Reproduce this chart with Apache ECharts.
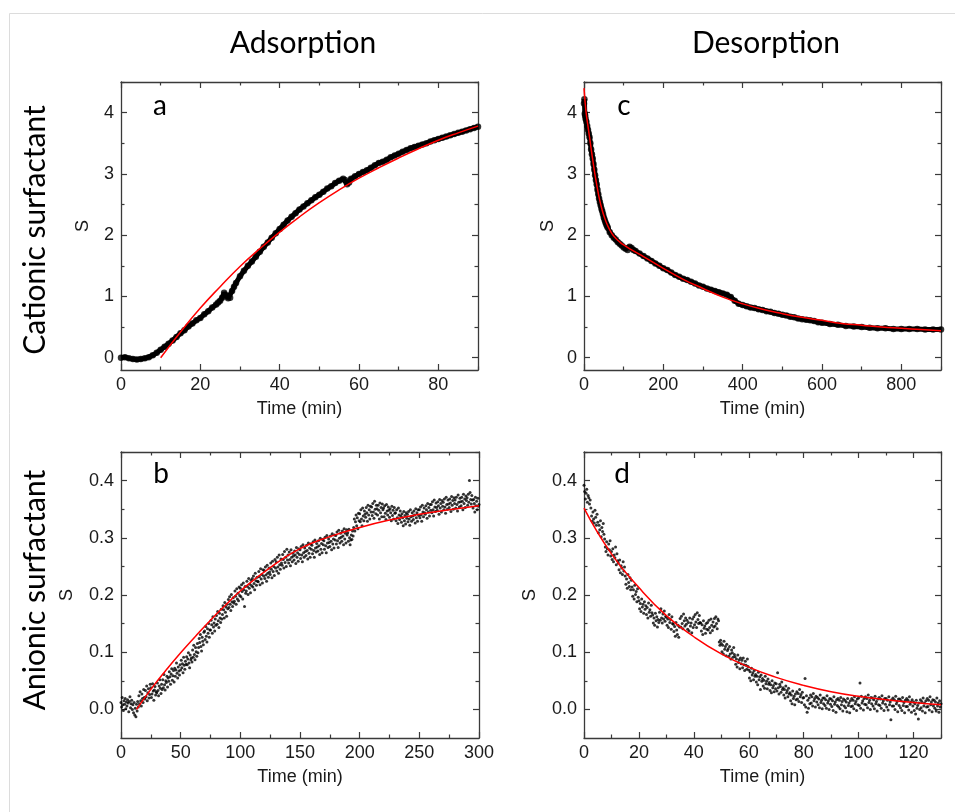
<!DOCTYPE html>
<html><head><meta charset="utf-8">
<script src="https://cdn.jsdelivr.net/npm/echarts@6/dist/echarts.min.js"></script>
<style>html,body{margin:0;padding:0;background:#fff}#c{width:955px;height:812px}</style>
</head><body><div id="c"></div>
<script>
// ---------- Panel a: cationic adsorption ----------
const aTime = [0,1,2,3,4,5,6,7,8,9,10,11,12,13,14,15,16,17,18,19,20,21,22,23,24,24.5,25,25.5,26,26.5,27,27.5,28,28.5,29,30,31,32,33,34,35,36,37,38,39,40,41,42,43,44,45,46,47,48,49,50,51,52,53,54,55,56,56.5,57,57.5,58,59,60,61,62,63,64,65,66,67,68,69,70,71,72,73,74,75,76,77,78,79,80,81,82,83,84,85,86,87,88,89,90];
const aS = [0.00,0.01,-0.01,-0.02,-0.03,-0.02,-0.01,0.01,0.04,0.08,0.13,0.18,0.23,0.28,0.34,0.40,0.45,0.51,0.56,0.61,0.65,0.71,0.76,0.82,0.87,0.90,0.93,0.98,1.06,1.02,0.97,0.98,1.09,1.16,1.22,1.33,1.42,1.50,1.57,1.65,1.73,1.81,1.88,1.96,2.03,2.10,2.17,2.24,2.30,2.36,2.42,2.47,2.52,2.57,2.62,2.66,2.71,2.76,2.80,2.85,2.89,2.92,2.90,2.83,2.86,2.92,2.96,3.00,3.03,3.06,3.10,3.14,3.18,3.20,3.23,3.27,3.30,3.33,3.36,3.39,3.42,3.44,3.46,3.48,3.50,3.53,3.55,3.57,3.59,3.61,3.63,3.65,3.67,3.69,3.71,3.73,3.75,3.77];
const aFitTime = [10,15,20,25,30,35,40,45,50,55,60,65,70,75,80,85,90];
const aFitS = [0,0.42,0.81,1.16,1.49,1.78,2.05,2.30,2.53,2.74,2.93,3.10,3.26,3.41,3.55,3.67,3.78];

// ---------- Panel c: cationic desorption ----------
const cTime = [0,1,2,3,4,6,8,10,12,14,16,18,20,22,24,26,28,30,32,34,36,38,40,42,44,46,48,50,52,54,56,58,60,65,70,75,80,85,90,95,100,105,110,115,120,125,130,
 140,150,160,170,180,190,200,210,220,230,240,250,260,270,280,290,300,310,320,330,340,350,360,370,380,390,400,410,420,430,440,450,460,470,480,490,500,510,520,530,540,550,560,570,580,590,600,
 620,640,660,680,700,720,740,760,780,800,820,840,860,880,900];
const cS = [4.15,4.22,3.98,3.95,3.90,3.85,3.78,3.72,3.66,3.60,3.50,3.40,3.32,3.25,3.16,3.07,2.98,2.90,2.83,2.74,2.67,2.60,2.54,2.49,2.43,2.39,2.34,2.29,2.25,2.21,2.18,2.15,2.12,2.05,2.00,1.96,1.93,1.89,1.86,1.83,1.80,1.78,1.76,1.81,1.79,1.76,1.74,
 1.70,1.66,1.62,1.58,1.54,1.50,1.46,1.43,1.39,1.35,1.32,1.29,1.27,1.24,1.21,1.18,1.16,1.13,1.11,1.09,1.07,1.05,1.03,0.99,0.93,0.88,0.86,0.84,0.82,0.81,0.79,0.78,0.76,0.75,0.73,0.72,0.70,0.69,0.67,0.66,0.64,0.63,0.62,0.61,0.60,0.58,0.57,
 0.55,0.54,0.52,0.51,0.50,0.49,0.48,0.48,0.47,0.47,0.47,0.47,0.46,0.46,0.46];
const cFitTime = [0,5,10,15,20,25,30,35,40,45,50,60,70,80,90,100,120,150,200,250,300,350,400,450,500,550,600,650,700,750,800,850,900];
const cFitS = [4.40,4.02,3.78,3.55,3.32,3.10,2.90,2.72,2.56,2.43,2.32,2.15,2.03,1.95,1.89,1.84,1.76,1.65,1.46,1.28,1.13,0.99,0.88,0.79,0.72,0.66,0.61,0.56,0.53,0.50,0.48,0.46,0.44];

// ---------- Panel b: anionic adsorption (samples every 0.5 min from 0) ----------
const bStart = 0, bStep = 0.5;
const bS = [
.012,.004,.021,.008,-.002,.015,.009,.019,.001,.013,
.006,.017,.011,-.004,.014,.022,.003,.010,.016,.000,
.008,-.006,.012,-.010,.002,-.013,.009,-.003,.014,.004,
.024,.010,.031,.015,.006,.027,.019,.012,.035,.021,
.018,.033,.022,.041,.015,.029,.036,.020,.026,.044,
.038,.021,.027,.045,.032,.016,.034,.040,.025,.031,
.029,.046,.033,.024,.041,.052,.037,.028,.044,.035,
.052,.038,.061,.043,.034,.050,.047,.058,.039,.055,
.049,.066,.057,.044,.062,.071,.051,.059,.068,.048,
.072,.058,.069,.081,.063,.055,.074,.067,.060,.078,
.069,.086,.073,.080,.064,.091,.077,.070,.084,.079,
.092,.078,.088,.099,.081,.073,.095,.087,.090,.083,
.104,.091,.112,.096,.087,.108,.101,.093,.115,.099,
.108,.124,.117,.131,.110,.102,.126,.119,.113,.135,
.137,.122,.145,.128,.118,.141,.133,.150,.126,.139,
.139,.156,.148,.133,.162,.144,.151,.137,.158,.147,
.164,.149,.171,.155,.143,.168,.160,.152,.175,.158,
.166,.181,.174,.160,.187,.170,.179,.163,.184,.176,
.192,.178,.197,.184,.173,.201,.188,.180,.195,.186,
.189,.207,.198,.184,.211,.193,.203,.190,.214,.199,
.212,.197,.218,.206,.193,.221,.209,.180,.215,.203,
.207,.224,.215,.201,.229,.212,.219,.204,.226,.216,
.229,.214,.233,.220,.209,.238,.225,.217,.231,.224,
.223,.241,.232,.218,.246,.228,.236,.221,.244,.233,
.243,.229,.249,.235,.224,.252,.238,.231,.247,.240,
.236,.256,.245,.230,.259,.241,.250,.234,.262,.247,
.258,.242,.266,.249,.238,.270,.253,.245,.263,.256,
.252,.271,.262,.247,.276,.257,.266,.250,.280,.261,
.270,.256,.275,.262,.251,.279,.266,.258,.273,.268,
.261,.277,.270,.255,.283,.266,.274,.259,.281,.271,
.279,.264,.285,.270,.258,.288,.274,.266,.282,.276,
.269,.287,.278,.263,.291,.273,.282,.266,.289,.280,
.287,.272,.293,.278,.266,.296,.282,.275,.290,.284,
.277,.295,.286,.271,.299,.280,.290,.274,.297,.288,
.295,.280,.301,.286,.274,.304,.291,.283,.298,.292,
.285,.303,.294,.279,.307,.289,.298,.282,.305,.296,
.304,.289,.310,.295,.283,.313,.299,.291,.308,.301,
.294,.312,.303,.288,.316,.298,.308,.291,.314,.305,
.309,.294,.315,.300,.288,.296,.305,.297,.312,.303,
.318,.333,.312,.328,.340,.321,.335,.316,.343,.330,
.342,.328,.349,.333,.321,.352,.338,.330,.347,.341,
.336,.353,.344,.329,.357,.340,.349,.333,.355,.345,
.354,.339,.360,.345,.334,.364,.350,.342,.357,.351,
.340,.357,.348,.333,.361,.344,.353,.337,.359,.349,
.352,.337,.356,.343,.332,.358,.347,.340,.354,.348,
.336,.351,.344,.330,.355,.339,.348,.333,.353,.343,
.344,.330,.349,.335,.325,.352,.340,.332,.347,.338,
.327,.342,.335,.321,.346,.330,.339,.324,.344,.334,
.341,.328,.346,.333,.322,.349,.337,.329,.344,.338,
.332,.347,.340,.326,.351,.335,.344,.329,.349,.339,
.349,.335,.354,.340,.329,.357,.345,.337,.352,.344,
.341,.356,.349,.334,.360,.345,.353,.338,.358,.348,
.358,.344,.363,.349,.338,.366,.354,.346,.361,.353,
.348,.363,.356,.341,.367,.352,.360,.345,.365,.355,
.362,.349,.368,.354,.343,.371,.358,.350,.366,.359,
.353,.368,.361,.346,.372,.357,.365,.350,.370,.360,
.366,.352,.371,.358,.347,.375,.362,.354,.369,.363,
.356,.371,.364,.349,.376,.360,.368,.353,.373,.365,
.370,.357,.376,.362,.400,.379,.367,.359,.374,.366,
.352,.367,.360,.345,.371,.356,.364,.349,.369,.355,
.358];
const bFitTime = [13,25,37.5,50,62.5,75,87.5,100,125,150,175,200,225,250,275,300];
const bFitS = [0,0.035,0.068,0.099,0.128,0.156,0.182,0.207,0.248,0.281,0.302,0.318,0.331,0.341,0.349,0.356];

// ---------- Panel d: anionic desorption (samples every 0.25 min from 0) ----------
const dStart = 0, dStep = 0.25;
const dS = [
.392,.381,.368,.378,.385,.362,.374,.370,.359,.366,
.352,.338,.329,.345,.333,.326,.348,.336,.322,.341,
.327,.309,.322,.314,.330,.302,.318,.311,.325,.306,
.298,.284,.276,.293,.281,.270,.289,.279,.295,.268,
.276,.262,.281,.258,.270,.265,.284,.253,.272,.260,
.256,.244,.261,.239,.251,.247,.236,.258,.242,.249,
.233,.219,.228,.212,.236,.222,.215,.230,.209,.226,
.214,.198,.209,.193,.217,.201,.206,.188,.211,.196,
.190,.176,.185,.171,.193,.179,.184,.168,.188,.175,
.181,.166,.178,.160,.186,.170,.174,.163,.182,.169,
.165,.151,.160,.147,.168,.155,.162,.144,.157,.152,
.170,.156,.176,.160,.151,.167,.158,.172,.154,.163,
.161,.147,.158,.143,.166,.152,.157,.140,.162,.150,
.149,.136,.145,.128,.152,.139,.131,.147,.126,.144,
.159,.144,.163,.150,.141,.167,.155,.146,.160,.149,
.156,.140,.152,.137,.160,.146,.151,.134,.158,.143,
.162,.148,.166,.153,.143,.169,.157,.150,.164,.152,
.151,.137,.148,.131,.155,.142,.146,.133,.150,.140,
.152,.139,.156,.143,.134,.158,.147,.138,.153,.144,
.159,.146,.162,.150,.141,.158,.155,.118,.112,.121,
.115,.101,.112,.097,.119,.105,.110,.094,.114,.103,
.106,.093,.110,.097,.088,.104,.099,.091,.108,.096,
.092,.079,.088,.074,.095,.082,.087,.071,.090,.080,
.086,.073,.090,.078,.068,.084,.077,.070,.088,.075,
.069,.055,.066,.050,.072,.060,.064,.052,.068,.058,
.061,.048,.058,.043,.065,.052,.057,.035,.060,.049,
.054,.041,.051,.037,.058,.045,.049,.036,.053,.044,
.047,.033,.043,.029,.050,.038,.042,.031,.046,.036,
.045,.032,.064,.038,.027,.044,.040,.030,.048,.035,
.038,.025,.035,.020,.041,.029,.033,.022,.037,.027,
.029,.015,.025,.010,.032,.019,.023,.008,.027,.017,
.031,.018,.028,.014,.035,.022,.026,.012,.030,.020,
.021,.008,.054,.004,.024,-.005,.016,.002,.020,.010,
.025,.011,.022,.006,.028,.015,.019,.004,.023,.013,
.021,.008,.018,.003,.025,.012,.016,.001,.020,.010,
.020,.007,.017,.002,.024,.011,.015,.000,.019,.009,
.018,.005,.015,-.002,.022,.009,.013,-.005,.017,.007,
.019,.004,.016,.001,.021,.008,.014,-.003,.018,.006,
.016,.003,.013,-.004,.019,.007,.011,-.006,.015,.005,
.019,.006,.016,.001,.022,.010,.014,-.002,.018,.008,
.020,.007,.046,.002,.023,.011,.015,-.001,.019,.009,
.022,.008,.019,.003,.025,.012,.016,.000,.021,.010,
.020,.006,.017,.001,.023,.010,.014,-.003,.018,.008,
.021,.007,.018,.002,.024,.011,.015,-.002,.019,.009,
.019,.004,.016,-.001,.022,.008,.013,-.018,.017,.006,
.020,.006,.017,.000,.023,.010,.014,-.004,.018,.007,
.018,.003,.015,-.002,.021,.007,.012,-.006,.016,.005,
.019,.005,.016,-.001,.022,.009,.013,-.005,.017,.006,
.013,-.002,.010,-.008,.016,.002,.007,-.017,.011,.000,
.017,.003,.014,-.003,.020,.006,.011,-.006,.015,.004,
.019,.005,.016,-.001,.022,.008,.013,-.004,.017,.006,
.016,.002,.013,-.003,.020,.006,.011,-.005,.015,.004,
.010];
const dFitTime = [0,10,20,30,40,50,60,70,80,90,100,110,120,130];
const dFitS = [0.352,0.272,0.213,0.164,0.127,0.097,0.074,0.056,0.042,0.031,0.023,0.017,0.012,0.008];

// ---------- Tick values ----------
const aXTicks = [0,20,40,60,80], aXMinor = [10,30,50,70,90];
const aYTicks = [0,1,2,3,4], aYMinor = [0.5,1.5,2.5,3.5,4.5];
const cXTicks = [0,200,400,600,800], cXMinor = [100,300,500,700,900];
const cYTicks = [0,1,2,3,4], cYMinor = [0.5,1.5,2.5,3.5,4.5];
const bXTicks = [0,50,100,150,200,250,300], bXMinor = [25,75,125,175,225,275];
const bYTicks = [0,0.1,0.2,0.3,0.4], bYMinor = [0.05,0.15,0.25,0.35,0.45];
const dXTicks = [0,20,40,60,80,100,120], dXMinor = [10,30,50,70,90,110,130];
const dYTicks = [0,0.1,0.2,0.3,0.4], dYMinor = [0.05,0.15,0.25,0.35,0.45];

const xTitle = 'Time (min)', yTitle = 'S';
const colTitles = ['Adsorption','Desorption'];
const rowTitles = ['Cationic surfactant','Anionic surfactant'];
const letters = ['a','b','c','d'];

// ---------- build ----------
const zip = (xs, ys) => xs.map((x, i) => [x, ys[i]]);
const stepped = (start, step, ys) => ys.map((y, i) => [start + i * step, y]);

const AX = '#3a3a3a';
const tickFont = {fontFamily: '"Liberation Sans", Arial, sans-serif', fontSize: 18, color: '#1a1a1a'};
const grids = [], xAxes = [], yAxes = [], series = [];

function addPanel(p) {
  grids.push({left: p.left, top: p.top, width: p.w, height: p.h});
  const gi = grids.length - 1;
  const xi = xAxes.length, yi = yAxes.length;
  const xc = {type: 'value', gridIndex: gi, min: p.xMin, max: p.xMax, splitLine: {show: false}};
  const yc = {type: 'value', gridIndex: gi, min: p.yMin, max: p.yMax, splitLine: {show: false}};
  const line = {show: true, onZero: false, lineStyle: {color: AX, width: 1.3}};
  const noLine = {show: false, onZero: false};
  const major = v => ({show: true, inside: true, length: 6, customValues: v, lineStyle: {color: AX, width: 1.2}});
  const minor = v => ({show: true, inside: true, length: 3.5, customValues: v, lineStyle: {color: AX, width: 1.2}});
  const hid = v => ({show: false, customValues: v});
  xAxes.push(Object.assign({}, xc, {position: 'bottom', axisLine: line, axisTick: major(p.xTicks),
    axisLabel: Object.assign({show: true, customValues: p.xTicks, margin: 6}, tickFont),
    name: xTitle, nameLocation: 'middle', nameGap: 30, nameTextStyle: tickFont}));
  xAxes.push(Object.assign({}, xc, {position: 'bottom', axisLine: noLine, axisTick: minor(p.xMinor), axisLabel: hid(p.xMinor)}));
  xAxes.push(Object.assign({}, xc, {position: 'top', axisLine: line, axisTick: major(p.xTicks), axisLabel: hid(p.xTicks)}));
  xAxes.push(Object.assign({}, xc, {position: 'top', axisLine: noLine, axisTick: minor(p.xMinor), axisLabel: hid(p.xMinor)}));
  yAxes.push(Object.assign({}, yc, {position: 'left', axisLine: line, axisTick: major(p.yTicks),
    axisLabel: Object.assign({show: true, customValues: p.yTicks, margin: 7, formatter: p.yFmt}, tickFont),
    name: yTitle, nameLocation: 'middle', nameGap: p.yGap, nameRotate: 90, nameTextStyle: tickFont}));
  yAxes.push(Object.assign({}, yc, {position: 'left', axisLine: noLine, axisTick: minor(p.yMinor), axisLabel: hid(p.yMinor)}));
  yAxes.push(Object.assign({}, yc, {position: 'right', axisLine: line, axisTick: major(p.yTicks), axisLabel: hid(p.yTicks)}));
  yAxes.push(Object.assign({}, yc, {position: 'right', axisLine: noLine, axisTick: minor(p.yMinor), axisLabel: hid(p.yMinor)}));
  const ref = {xAxisIndex: xi, yAxisIndex: yi};
  if (p.band) {
    series.push(Object.assign({type: 'line', data: p.data, showSymbol: false, silent: true,
      lineStyle: {color: '#000', width: 5}, z: 2}, ref));
    series.push(Object.assign({type: 'scatter', data: p.data, symbolSize: 6.5, silent: true,
      itemStyle: {color: '#000'}, z: 3}, ref));
  } else {
    series.push(Object.assign({type: 'scatter', data: p.data, symbolSize: 3, silent: true,
      itemStyle: {color: '#000'}, z: 3}, ref));
  }
  series.push(Object.assign({type: 'line', data: p.fit, smooth: true, showSymbol: false, silent: true,
    lineStyle: {color: '#ff0000', width: 1.5}, z: 5}, ref));
}

const intFmt = v => String(Math.round(v));
const decFmt = v => v.toFixed(1);

addPanel({left: 121, top: 82, w: 357, h: 288, xMin: 0, xMax: 90, yMin: -0.2, yMax: 4.5,
  xTicks: aXTicks, xMinor: aXMinor, yTicks: aYTicks, yMinor: aYMinor, yFmt: intFmt, yGap: 29,
  band: true, data: zip(aTime, aS), fit: zip(aFitTime, aFitS)});
addPanel({left: 584, top: 82, w: 357, h: 288, xMin: 0, xMax: 900, yMin: -0.2, yMax: 4.5,
  xTicks: cXTicks, xMinor: cXMinor, yTicks: cYTicks, yMinor: cYMinor, yFmt: intFmt, yGap: 27,
  band: true, data: zip(cTime, cS), fit: zip(cFitTime, cFitS)});
addPanel({left: 121, top: 452, w: 358, h: 286, xMin: 0, xMax: 300, yMin: -0.05, yMax: 0.45,
  xTicks: bXTicks, xMinor: bXMinor, yTicks: bYTicks, yMinor: bYMinor, yFmt: decFmt, yGap: 45,
  band: false, data: stepped(bStart, bStep, bS), fit: zip(bFitTime, bFitS)});
addPanel({left: 584, top: 452, w: 357, h: 286, xMin: 0, xMax: 130, yMin: -0.05, yMax: 0.45,
  xTicks: dXTicks, xMinor: dXMinor, yTicks: dYTicks, yMinor: dYMinor, yFmt: decFmt, yGap: 45,
  band: false, data: stepped(dStart, dStep, dS), fit: zip(dFitTime, dFitS)});

const titleFont = {fontFamily: 'Lato, "Open Sans", sans-serif', fontSize: 30, fill: '#000', align: 'center', verticalAlign: 'middle'};
const letterFont = {fontFamily: 'Lato, "Open Sans", sans-serif', fontSize: 28, fill: '#000', align: 'center', verticalAlign: 'middle'};
const graphic = [
  {type: 'line', shape: {x1: 9.5, y1: 13.5, x2: 960, y2: 13.5}, style: {stroke: '#dcdcdc', lineWidth: 1}, silent: true},
  {type: 'line', shape: {x1: 9.5, y1: 13.5, x2: 9.5, y2: 820}, style: {stroke: '#dcdcdc', lineWidth: 1}, silent: true},
  {type: 'text', x: 303, y: 43, style: Object.assign({text: colTitles[0]}, titleFont)},
  {type: 'text', x: 766, y: 43, style: Object.assign({text: colTitles[1]}, titleFont)},
  {type: 'text', x: 35, y: 230, rotation: Math.PI / 2, style: Object.assign({text: rowTitles[0]}, titleFont)},
  {type: 'text', x: 35, y: 590, rotation: Math.PI / 2, style: Object.assign({text: rowTitles[1]}, titleFont)},
  {type: 'text', x: 160, y: 106, style: Object.assign({text: letters[0]}, letterFont)},
  {type: 'text', x: 161, y: 474, style: Object.assign({text: letters[1]}, letterFont)},
  {type: 'text', x: 624, y: 106, style: Object.assign({text: letters[2]}, letterFont)},
  {type: 'text', x: 622, y: 474, style: Object.assign({text: letters[3]}, letterFont)}
];

const chart = echarts.init(document.getElementById('c'), null, {renderer: 'canvas'});
chart.setOption({animation: false, backgroundColor: '#fff', grid: grids, xAxis: xAxes, yAxis: yAxes, series: series, graphic: graphic});
</script></body></html>
